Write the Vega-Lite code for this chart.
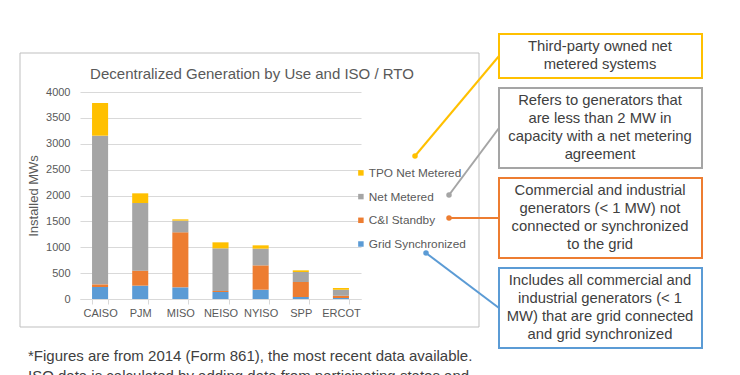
{
  "$schema": "https://vega.github.io/schema/vega-lite/v6.json",
  "width": 281,
  "height": 207,
  "autosize": {"type": "none"},
  "padding": {"left": 80, "top": 92, "right": 379, "bottom": 76},
  "background": "white",
  "config": {
    "view": {"stroke": null},
    "font": "Liberation Sans",
    "axis": {"labelFont": "Liberation Sans", "titleFont": "Liberation Sans"},
    "legend": {"labelFont": "Liberation Sans"}
  },
  "layer": [
    {
      "layer": [
        {
          "data": {"values": [{"part": "chart area"}]},
          "mark": {"type": "rect", "fillOpacity": 0, "stroke": "#bfbfbf", "strokeWidth": 1},
          "encoding": {
            "x": {"datum": 20, "type": "quantitative", "scale": {"domain": [0, 740], "range": [-80, 660], "nice": false, "zero": false}, "axis": null},
            "x2": {"datum": 479},
            "y": {"datum": 53, "type": "quantitative", "scale": {"domain": [0, 375], "range": [-92, 283], "nice": false, "zero": false}, "axis": null},
            "y2": {"datum": 327}
          }
        },
        {
          "data": {"values": [{"title": "Decentralized Generation by Use and ISO / RTO"}]},
          "mark": {"type": "text", "fontSize": 15, "color": "#595959", "align": "center", "baseline": "alphabetic"},
          "encoding": {
            "x": {"datum": 252, "type": "quantitative", "scale": {"domain": [0, 740], "range": [-80, 660], "nice": false, "zero": false}, "axis": null},
            "y": {"datum": 79, "type": "quantitative", "scale": {"domain": [0, 375], "range": [-92, 283], "nice": false, "zero": false}, "axis": null},
            "text": {"field": "title"}
          }
        },
        {
          "data": {"values": [{"footnote": ["*Figures are from 2014 (Form 861), the most recent data available.", "ISO data is calculated by adding data from participating states and"]}]},
          "mark": {"type": "text", "fontSize": 15, "color": "#404040", "align": "left", "baseline": "alphabetic", "lineHeight": 19.5},
          "encoding": {
            "x": {"datum": 28, "type": "quantitative", "scale": {"domain": [0, 740], "range": [-80, 660], "nice": false, "zero": false}, "axis": null},
            "y": {"datum": 361, "type": "quantitative", "scale": {"domain": [0, 375], "range": [-92, 283], "nice": false, "zero": false}, "axis": null},
            "text": {"field": "footnote"}
          }
        },
        {
          "data": {"values": [
            {"use": "TPO Net Metered", "note": ["Third-party owned net", "metered systems"]},
            {"use": "Net Metered", "note": ["Refers to generators that", "are less than 2 MW in", "capacity with a net metering", "agreement"]},
            {"use": "C&I Standby", "note": ["Commercial and industrial", "generators (< 1 MW) not", "connected or synchronized", "to the grid"]},
            {"use": "Grid Synchronized", "note": ["Includes all commercial and", "industrial generators (< 1", "MW) that are grid connected", "and grid synchronized"]}
          ]},
          "transform": [
            {"calculate": "indexof(['TPO Net Metered','Net Metered','C&I Standby','Grid Synchronized'], datum.use)", "as": "rank"},
            {"calculate": "['#FFC000','#A5A5A5','#ED7D31','#5B9BD5'][datum.rank]", "as": "boxColor"},
            {"calculate": "length(datum.note) * 18 + 18", "as": "slot"},
            {"stack": "slot", "groupby": [], "sort": [{"field": "rank", "order": "ascending"}], "as": ["s0", "s1"]},
            {"calculate": "datum.s0 + 34", "as": "boxTop"},
            {"calculate": "datum.s1 + 24", "as": "boxBottom"},
            {"calculate": "(datum.boxTop + datum.boxBottom) / 2 - (length(datum.note) - 1) * 18.3 / 2", "as": "textY"}
          ],
          "layer": [
            {
              "mark": {"type": "rect", "fill": "white", "strokeWidth": 2},
              "encoding": {
                "x": {"datum": 499, "type": "quantitative", "scale": {"domain": [0, 740], "range": [-80, 660], "nice": false, "zero": false}, "axis": null},
                "x2": {"datum": 702},
                "y": {"field": "boxTop", "type": "quantitative", "scale": {"domain": [0, 375], "range": [-92, 283], "nice": false, "zero": false}, "axis": null},
                "y2": {"field": "boxBottom"},
                "stroke": {"field": "boxColor", "type": "nominal", "scale": null}
              }
            },
            {
              "mark": {"type": "text", "fontSize": 14.8, "color": "#404040", "align": "center", "baseline": "middle", "lineHeight": 18.3},
              "encoding": {
                "x": {"datum": 600, "type": "quantitative", "scale": {"domain": [0, 740], "range": [-80, 660], "nice": false, "zero": false}, "axis": null},
                "y": {"field": "textY", "type": "quantitative", "scale": {"domain": [0, 375], "range": [-92, 283], "nice": false, "zero": false}, "axis": null},
                "text": {"field": "note"}
              }
            }
          ]
        },
        {
          "data": {"values": [{"use": "TPO Net Metered"}]},
          "encoding": {
            "x": {"datum": 415, "type": "quantitative", "scale": {"domain": [0, 740], "range": [-80, 660], "nice": false, "zero": false}, "axis": null},
            "y": {"datum": 156, "type": "quantitative", "scale": {"domain": [0, 375], "range": [-92, 283], "nice": false, "zero": false}, "axis": null}
          },
          "layer": [
            {"mark": {"type": "rule", "strokeWidth": 2, "color": "#FFC000"}, "encoding": {"x2": {"datum": 499}, "y2": {"datum": 56}}},
            {"mark": {"type": "circle", "size": 30, "opacity": 1, "color": "#FFC000"}}
          ]
        },
        {
          "data": {"values": [{"use": "Net Metered"}]},
          "encoding": {
            "x": {"datum": 449, "type": "quantitative", "scale": {"domain": [0, 740], "range": [-80, 660], "nice": false, "zero": false}, "axis": null},
            "y": {"datum": 195, "type": "quantitative", "scale": {"domain": [0, 375], "range": [-92, 283], "nice": false, "zero": false}, "axis": null}
          },
          "layer": [
            {"mark": {"type": "rule", "strokeWidth": 2, "color": "#A5A5A5"}, "encoding": {"x2": {"datum": 499}, "y2": {"datum": 128}}},
            {"mark": {"type": "circle", "size": 30, "opacity": 1, "color": "#A5A5A5"}}
          ]
        },
        {
          "data": {"values": [{"use": "C&I Standby"}]},
          "encoding": {
            "x": {"datum": 449, "type": "quantitative", "scale": {"domain": [0, 740], "range": [-80, 660], "nice": false, "zero": false}, "axis": null},
            "y": {"datum": 218, "type": "quantitative", "scale": {"domain": [0, 375], "range": [-92, 283], "nice": false, "zero": false}, "axis": null}
          },
          "layer": [
            {"mark": {"type": "rule", "strokeWidth": 2, "color": "#ED7D31"}, "encoding": {"x2": {"datum": 499}, "y2": {"datum": 218}}},
            {"mark": {"type": "circle", "size": 30, "opacity": 1, "color": "#ED7D31"}}
          ]
        },
        {
          "data": {"values": [{"use": "Grid Synchronized"}]},
          "encoding": {
            "x": {"datum": 426, "type": "quantitative", "scale": {"domain": [0, 740], "range": [-80, 660], "nice": false, "zero": false}, "axis": null},
            "y": {"datum": 253, "type": "quantitative", "scale": {"domain": [0, 375], "range": [-92, 283], "nice": false, "zero": false}, "axis": null}
          },
          "layer": [
            {"mark": {"type": "rule", "strokeWidth": 2, "color": "#5B9BD5"}, "encoding": {"x2": {"datum": 499}, "y2": {"datum": 308}}},
            {"mark": {"type": "circle", "size": 30, "opacity": 1, "color": "#5B9BD5"}}
          ]
        }
      ]
    },
    {
      "data": {"values": [
        {"iso": "CAISO", "use": "Grid Synchronized", "mw": 232},
        {"iso": "CAISO", "use": "C&I Standby", "mw": 51},
        {"iso": "CAISO", "use": "Net Metered", "mw": 2873},
        {"iso": "CAISO", "use": "TPO Net Metered", "mw": 631},
        {"iso": "PJM", "use": "Grid Synchronized", "mw": 258},
        {"iso": "PJM", "use": "C&I Standby", "mw": 290},
        {"iso": "PJM", "use": "Net Metered", "mw": 1307},
        {"iso": "PJM", "use": "TPO Net Metered", "mw": 187},
        {"iso": "MISO", "use": "Grid Synchronized", "mw": 225},
        {"iso": "MISO", "use": "C&I Standby", "mw": 1063},
        {"iso": "MISO", "use": "Net Metered", "mw": 226},
        {"iso": "MISO", "use": "TPO Net Metered", "mw": 25},
        {"iso": "NEISO", "use": "Grid Synchronized", "mw": 135},
        {"iso": "NEISO", "use": "C&I Standby", "mw": 20},
        {"iso": "NEISO", "use": "Net Metered", "mw": 824},
        {"iso": "NEISO", "use": "TPO Net Metered", "mw": 116},
        {"iso": "NYISO", "use": "Grid Synchronized", "mw": 180},
        {"iso": "NYISO", "use": "C&I Standby", "mw": 470},
        {"iso": "NYISO", "use": "Net Metered", "mw": 323},
        {"iso": "NYISO", "use": "TPO Net Metered", "mw": 64},
        {"iso": "SPP", "use": "Grid Synchronized", "mw": 39},
        {"iso": "SPP", "use": "C&I Standby", "mw": 289},
        {"iso": "SPP", "use": "Net Metered", "mw": 194},
        {"iso": "SPP", "use": "TPO Net Metered", "mw": 32},
        {"iso": "ERCOT", "use": "Grid Synchronized", "mw": 19},
        {"iso": "ERCOT", "use": "C&I Standby", "mw": 45},
        {"iso": "ERCOT", "use": "Net Metered", "mw": 116},
        {"iso": "ERCOT", "use": "TPO Net Metered", "mw": 32}
      ]},
      "transform": [
        {"calculate": "indexof(['Grid Synchronized','C&I Standby','Net Metered','TPO Net Metered'], datum.use)", "as": "stackOrder"}
      ],
      "mark": {"type": "bar"},
      "encoding": {
        "x": {
          "field": "iso", "type": "nominal",
          "sort": ["CAISO", "PJM", "MISO", "NEISO", "NYISO", "SPP", "ERCOT"],
          "scale": {"paddingInner": 0.6, "paddingOuter": 0.3},
          "axis": {"title": null, "labelAngle": 0, "labelFontSize": 11, "labelColor": "#595959", "domainColor": "#d9d9d9", "tickColor": "#d9d9d9", "tickSize": 5, "tickBand": "extent", "labelPadding": 3, "grid": false}
        },
        "y": {
          "field": "mw", "type": "quantitative", "stack": "zero",
          "scale": {"domain": [0, 4000], "nice": false},
          "axis": {"title": "Installed MWs", "format": "d", "titleFontSize": 13, "titleFontWeight": "normal", "titleColor": "#595959", "titlePadding": 5, "labelFontSize": 11, "labelColor": "#595959", "labelPadding": 10, "ticks": false, "tickSize": 0, "domain": false, "grid": true, "gridColor": "#d9d9d9", "values": [0, 500, 1000, 1500, 2000, 2500, 3000, 3500, 4000]}
        },
        "color": {
          "field": "use", "type": "nominal",
          "scale": {"domain": ["TPO Net Metered", "Net Metered", "C&I Standby", "Grid Synchronized"], "range": ["#FFC000", "#A5A5A5", "#ED7D31", "#5B9BD5"]},
          "legend": {"title": null, "orient": "none", "legendX": 275, "legendY": 75, "direction": "vertical", "symbolType": "square", "symbolSize": 30, "symbolStrokeWidth": 0, "labelFontSize": 11.8, "labelColor": "#595959", "rowPadding": 10.7, "labelOffset": 2, "padding": 0}
        },
        "order": {"field": "stackOrder", "type": "quantitative"}
      }
    }
  ],
  "resolve": {"scale": {"x": "independent", "y": "independent"}}
}
